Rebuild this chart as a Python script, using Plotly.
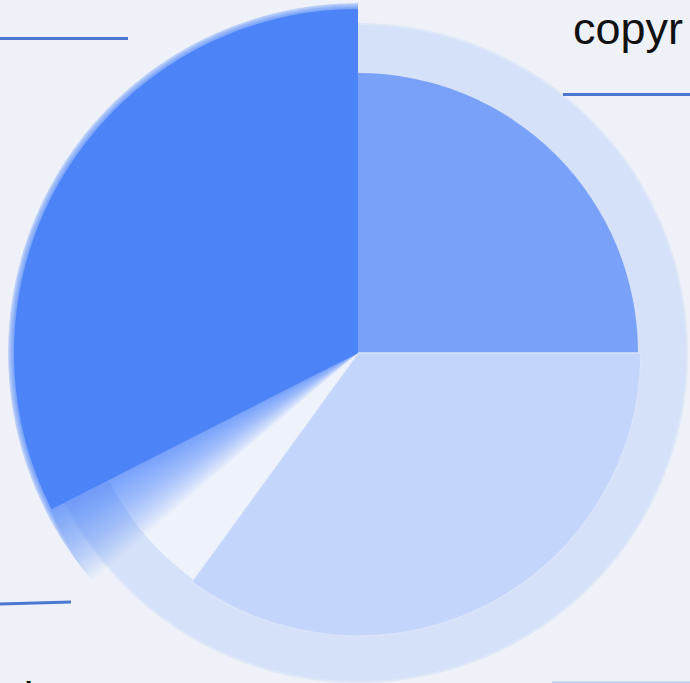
import numpy as np
import plotly.graph_objects as go

W, H = 690, 683

# rose-style pie, slices clockwise from 12 o'clock
categories = ["A", "B", "C", "D"]
shares = [25, 35, 7.5, 32.5]
radii = [280, 283, 280, 344]
colors = ["#79a1f9", "#c3d5fb", "#eef2fb", "#4c84f7"]

ring_radius = 328
ring_color = "#d5e1f8"

top_text = "copyr"
bottom_text = "chart"

total = sum(shares)
widths = [s / total * 360 for s in shares]
starts = np.cumsum([0] + widths[:-1])
centers = [s + w / 2 for s, w in zip(starts, widths)]

cx, cy = 358, 353   # centre of the chart in pixels


def px(x):
    return x / W


def py(y):
    return 1 - y / H


def polar_domain(r, sector):
    # bounding box of a sector (centre included), same idea as plotly.js
    a0, a1 = sector
    angs = [a0, a1] + [a for a in (0, 90, 180, 270, 360, 450) if a0 <= a <= a1]
    xs = [np.cos(np.radians(a)) for a in angs] + [0]
    ys = [np.sin(np.radians(a)) for a in angs] + [0]
    x0, x1 = cx + r * min(xs), cx + r * max(xs)
    ytop, ybot = cy - r * max(ys), cy - r * min(ys)
    dx = [max(0, px(x0)), min(1, px(x1))]
    dy = [max(0, py(ybot)), min(1, py(ytop))]
    return dict(x=dx, y=dy)


R1 = 330
R2 = 350
sector2 = [88, 236]

fig = go.Figure()

# light outer disk with a soft rim
for grow, alpha in [(6, 0.3), (3, 0.5)]:
    fig.add_trace(go.Barpolar(r=[ring_radius + grow], theta=[180], width=[360],
                              marker=dict(color="rgba(213,225,248,%s)" % alpha, line_width=0),
                              subplot="polar", hoverinfo="skip", showlegend=False))
fig.add_trace(go.Barpolar(r=[ring_radius], theta=[180], width=[360],
                          marker=dict(color=ring_color, line_width=0),
                          subplot="polar", hoverinfo="skip", showlegend=False))

# first three slices
fig.add_trace(go.Barpolar(r=radii[:3], theta=centers[:3], width=widths[:3],
                          text=categories[:3],
                          marker=dict(color=colors[:3], line=dict(width=[0, 1.5, 0], color="#d9e4fb")),
                          subplot="polar", showlegend=False))

# soft shadow of the big slice
d_start = starts[3]
d_end = starts[3] + widths[3]
for k in range(30, 0, -1):
    s = d_start - k * 0.45
    fig.add_trace(go.Barpolar(r=[radii[3] + k * 0.25], theta=[(s + d_end) / 2], width=[d_end - s],
                              marker=dict(color="rgba(76,132,247,0.03)", line_width=0),
                              subplot="polar2", hoverinfo="skip", showlegend=False))

fig.add_trace(go.Barpolar(r=[radii[3]], theta=[centers[3]], width=[widths[3]],
                          text=[categories[3]],
                          marker=dict(color=colors[3], line_width=0),
                          subplot="polar2", showlegend=False))

axis_off = dict(
    bgcolor="rgba(0,0,0,0)",
    barmode="overlay",
    angularaxis=dict(visible=False, direction="clockwise", rotation=90),
)

fig.update_layout(
    width=W, height=H, autosize=False,
    margin=dict(l=0, r=0, t=0, b=0),
    paper_bgcolor="#eef2f8",
    plot_bgcolor="#eef2f8",
    polar=dict(domain=polar_domain(R1, [0, 360]),
               radialaxis=dict(visible=False, range=[0, R1]), **axis_off),
    polar2=dict(domain=polar_domain(R2, sector2), sector=sector2,
                radialaxis=dict(visible=False, range=[0, R2]), **axis_off),
    font=dict(family="Liberation Sans, Arial, sans-serif"),
)

fig.add_annotation(text=top_text, xref="paper", yref="paper",
                   x=px(571), y=py(1), xanchor="left", yanchor="top",
                   showarrow=False, font=dict(size=45, color="#111111"))
fig.add_annotation(text=bottom_text, xref="paper", yref="paper",
                   x=px(-1), y=py(670), xanchor="left", yanchor="top",
                   showarrow=False, font=dict(size=45, color="#111111"))

line_col = "#4b77cf"
fig.add_shape(type="line", xref="paper", yref="paper",
              x0=px(0), y0=py(38.5), x1=px(128), y1=py(38.5),
              line=dict(color=line_col, width=3))
fig.add_shape(type="line", xref="paper", yref="paper",
              x0=px(563), y0=py(94.5), x1=px(690), y1=py(94.5),
              line=dict(color=line_col, width=3))
fig.add_shape(type="line", xref="paper", yref="paper",
              x0=px(0), y0=py(604), x1=px(71), y1=py(602),
              line=dict(color=line_col, width=3))
fig.add_shape(type="line", xref="paper", yref="paper",
              x0=px(552), y0=py(682.5), x1=px(690), y1=py(682.5),
              line=dict(color="#b6cbf1", width=2))

fig.write_html("out.html", config={"displayModeBar": False},
               post_script="document.body.style.margin='0';"
                           "document.body.style.background='#eef2f8';")
